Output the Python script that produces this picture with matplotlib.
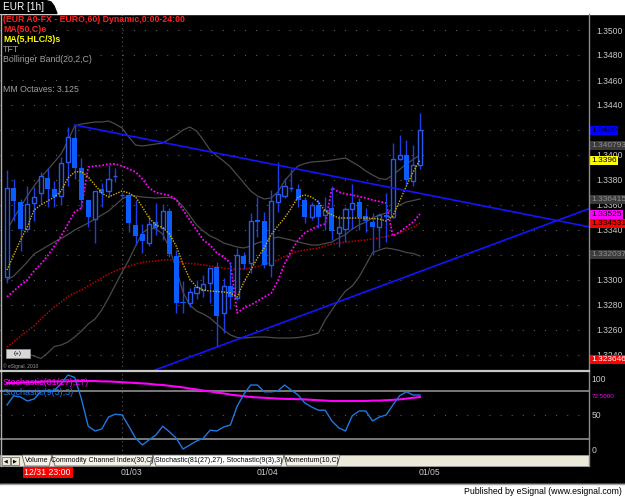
import numpy as np
import matplotlib
matplotlib.use('Agg')
import matplotlib.pyplot as plt
from matplotlib.patches import Rectangle, Polygon

W, H = 625, 497

# EUR/USD hourly candles (12/31 -> 01/05)
opens = [1.33024, 1.33736, 1.33624, 1.33408, 1.33616, 1.33696, 1.33816, 1.33728, 1.33672, 1.33944,
         1.34136, 1.33896, 1.3364, 1.33488, 1.33728, 1.33712, 1.33832, 1.3368, 1.3368, 1.3344,
         1.33368, 1.33296, 1.33464, 1.33416, 1.33552, 1.33192, 1.32824, 1.32816, 1.32896, 1.3292,
         1.32976, 1.33104, 1.32736, 1.32952, 1.32856, 1.33192, 1.33136, 1.3348, 1.33472, 1.3312,
         1.33624, 1.33672, 1.33736, 1.33728, 1.3364, 1.33504, 1.336, 1.3352, 1.33576, 1.33376,
         1.33408, 1.33568, 1.33624, 1.33512, 1.33464, 1.33424, 1.3352, 1.33504, 1.33968, 1.34,
         1.33792, 1.3392]
highs = [1.3388, 1.33808, 1.33648, 1.33752, 1.33744, 1.33864, 1.33896, 1.33792, 1.33984, 1.34224,
         1.3424, 1.33976, 1.3364, 1.33712, 1.33776, 1.3392, 1.33896, 1.33688, 1.33688, 1.3364,
         1.33448, 1.3352, 1.33616, 1.33608, 1.33576, 1.3324, 1.32992, 1.32936, 1.33, 1.3304,
         1.33096, 1.33144, 1.33016, 1.33144, 1.33256, 1.33224, 1.33536, 1.33664, 1.33544, 1.3372,
         1.33944, 1.33816, 1.33888, 1.33768, 1.33664, 1.33624, 1.3364, 1.33664, 1.33752, 1.3352,
         1.33584, 1.33768, 1.33656, 1.33576, 1.33536, 1.33536, 1.33696, 1.34096, 1.3416, 1.3412,
         1.3408, 1.34336]
lows = [1.32976, 1.33472, 1.33232, 1.33384, 1.33472, 1.33608, 1.33584, 1.33584, 1.336, 1.33752,
        1.33808, 1.33576, 1.33424, 1.33296, 1.33584, 1.33664, 1.33784, 1.33672, 1.33384, 1.3328,
        1.33216, 1.33272, 1.3336, 1.3332, 1.33184, 1.32736, 1.32736, 1.32784, 1.32848, 1.32864,
        1.32816, 1.32464, 1.32576, 1.32768, 1.3284, 1.33088, 1.33056, 1.33344, 1.33096, 1.33024,
        1.33544, 1.33656, 1.33712, 1.33584, 1.33456, 1.3348, 1.33416, 1.334, 1.3332, 1.33264,
        1.33304, 1.33408, 1.334, 1.33384, 1.332, 1.33256, 1.33304, 1.33496, 1.3396, 1.3376,
        1.33752, 1.33888]
closes = [1.33736, 1.33632, 1.33408, 1.33608, 1.33664, 1.33832, 1.33728, 1.33664, 1.33936, 1.34144,
          1.33896, 1.3364, 1.33504, 1.33712, 1.33696, 1.33808, 1.33832, 1.3368, 1.33456, 1.33352,
          1.33312, 1.33448, 1.33416, 1.33552, 1.33208, 1.32816, 1.32816, 1.32904, 1.32944, 1.32968,
          1.33096, 1.32712, 1.32952, 1.32864, 1.332, 1.33128, 1.33472, 1.33464, 1.3312, 1.33632,
          1.33688, 1.33752, 1.33736, 1.3364, 1.33504, 1.336, 1.33504, 1.3356, 1.33392, 1.33424,
          1.33568, 1.33616, 1.33504, 1.33472, 1.33424, 1.3352, 1.33504, 1.33968, 1.34, 1.338,
          1.3392, 1.3420]

# indicators
ma50 = [1.32464, 1.32504, 1.32552, 1.32592, 1.32632, 1.32688, 1.32736, 1.32784, 1.32824, 1.32868,
        1.32896, 1.3292, 1.32952, 1.32984, 1.33016, 1.33048, 1.33072, 1.33096, 1.33112, 1.33128,
        1.3314, 1.33148, 1.33152, 1.3316, 1.33164, 1.33152, 1.33136, 1.33132, 1.33128, 1.3312,
        1.33112, 1.33104, 1.33096, 1.33088, 1.33088, 1.33088, 1.33096, 1.33108, 1.33124, 1.33144,
        1.3316, 1.33188, 1.33212, 1.33228, 1.3324, 1.33248, 1.33256, 1.33272, 1.33288, 1.33296,
        1.33304, 1.33308, 1.33316, 1.3332, 1.33328, 1.33336, 1.33348, 1.3336, 1.33376, 1.334,
        1.33424, 1.33456]
ma5 = [1.3308, 1.3320, 1.3332, 1.33424, 1.3356, 1.3360, 1.33632, 1.33664, 1.33712, 1.33816,
       1.33864, 1.33868, 1.33824, 1.3376, 1.33696, 1.33664, 1.33688, 1.33712, 1.33696, 1.33664,
       1.33584, 1.33496, 1.3344, 1.3342, 1.33368, 1.33272, 1.33128, 1.33008, 1.32944, 1.3292,
       1.32912, 1.32908, 1.32904, 1.32896, 1.32864, 1.32984, 1.3308, 1.33176, 1.33256, 1.3336,
       1.33432, 1.33496, 1.33576, 1.33664, 1.3368, 1.33664, 1.33624, 1.33552, 1.3352, 1.33496,
       1.33496, 1.33496, 1.33496, 1.33496, 1.33492, 1.33488, 1.33472, 1.33512, 1.33632, 1.33752,
       1.33864, 1.3396]
tft = [1.32864, 1.32912, 1.3296, 1.33, 1.33072, 1.33128, 1.33192, 1.33272, 1.33352, 1.33448,
       1.33544, 1.33576, 1.33904, 1.33912, 1.33916, 1.33928, 1.33928, 1.33912, 1.33888, 1.33864,
       1.33808, 1.33736, 1.337, 1.33688, 1.33676, 1.33644, 1.3356, 1.3348, 1.334, 1.3332,
       1.3328, 1.33216, 1.33184, 1.33136, 1.32736, 1.32776, 1.328, 1.32832, 1.32864, 1.32892,
       1.32992, 1.33128, 1.33232, 1.3332, 1.33376, 1.33408, 1.33432, 1.33448, 1.33736, 1.33704,
       1.33688, 1.3368, 1.33668, 1.33656, 1.3364, 1.33628, 1.33616, 1.33352, 1.33384, 1.33424,
       1.33464, 1.33528]
bb_upper = [1.3340, 1.33496, 1.33584, 1.33672, 1.33752, 1.33824, 1.3388, 1.33944, 1.34008, 1.34112,
            1.34232, 1.34248, 1.34256, 1.34264, 1.34264, 1.34272, 1.34248, 1.34216, 1.34144, 1.3408,
            1.34072, 1.3408, 1.34088, 1.34096, 1.34128, 1.3416, 1.342, 1.34224, 1.34192, 1.3412,
            1.3404, 1.33992, 1.33952, 1.33904, 1.3384, 1.33776, 1.33712, 1.33672, 1.33648, 1.33656,
            1.33704, 1.33792, 1.33856, 1.33912, 1.33932, 1.33944, 1.33948, 1.33952, 1.3396, 1.33968,
            1.33976, 1.33944, 1.33912, 1.33872, 1.3384, 1.33812, 1.33804, 1.3384, 1.33884, 1.33928,
            1.33964, 1.34]
bb_mid = [1.33, 1.33032, 1.33088, 1.33144, 1.33208, 1.3324, 1.33272, 1.33304, 1.33332, 1.33364,
          1.334, 1.33428, 1.33456, 1.33488, 1.3352, 1.33552, 1.336, 1.33648, 1.33678, 1.33672,
          1.33664, 1.3366, 1.33656, 1.3366, 1.3366, 1.33644, 1.33588, 1.33516, 1.3344, 1.33392,
          1.33352, 1.33328, 1.33296, 1.3328, 1.33264, 1.33256, 1.33272, 1.33296, 1.33312, 1.33328,
          1.33344, 1.33332, 1.3332, 1.33304, 1.33292, 1.3328, 1.3328, 1.33292, 1.33304, 1.33336,
          1.33364, 1.33408, 1.3344, 1.33464, 1.33496, 1.3352, 1.33536, 1.33568, 1.336, 1.33624,
          1.33636, 1.33648]
bb_lower = [1.3244, 1.32432, 1.32424, 1.32408, 1.32392, 1.32372, 1.32416, 1.32468, 1.3248, 1.32504,
            1.32544, 1.32592, 1.32648, 1.32688, 1.3276, 1.32856, 1.3296, 1.33064, 1.3316, 1.33272,
            1.33376, 1.33416, 1.33408, 1.33368, 1.33256, 1.33088, 1.32904, 1.328, 1.32752, 1.32728,
            1.32696, 1.32648, 1.326, 1.3256, 1.3254, 1.32536, 1.3254, 1.32544, 1.32544, 1.3254,
            1.32536, 1.32536, 1.32536, 1.3254, 1.32548, 1.3256, 1.32576, 1.3268, 1.3276, 1.3284,
            1.32912, 1.32952, 1.33024, 1.3312, 1.3322, 1.3324, 1.33256, 1.33248, 1.33236, 1.3322,
            1.33212, 1.33192]

# trend lines (bar index, price)
trend_hi_x = [10, 86]
trend_hi_y = [1.3424, 1.33425]
trend_lo_x = [18, 86]
trend_lo_y = [1.32202, 1.33571]

# stochastics
stoch_fast = [62.5, 74, 72.5, 67.5, 70, 79, 80, 81, 89, 100,
              97, 70, 36, 30, 32.5, 47.5, 51, 50, 36, 21,
              12.5, 19, 25, 36, 29, 21, 7.5, 12.5, 17.5, 21,
              31, 30, 35, 37.5, 61, 76, 87.5, 87.5, 79, 79,
              80, 87.5, 81, 75, 65, 60, 56, 56, 42.5, 34,
              30, 49, 55, 55, 42.5, 47.5, 50, 62.5, 74, 79,
              75, 75]
stoch_slow = [90, 90, 90.5, 91, 91, 91.5, 92, 92, 92, 92,
              92.5, 92.5, 92.5, 92.5, 92, 92, 91.5, 91, 90.5, 90,
              89.5, 89, 88, 87.5, 86.5, 85.5, 84.5, 83, 82, 80.5,
              79.5, 78, 77, 75.5, 74.5, 73.5, 72.5, 72, 71.5, 71,
              70.5, 70.2, 70, 69.8, 69.5, 69, 68.5, 68, 67.5, 67.5,
              67.5, 67.5, 67.5, 67.5, 68, 68, 68.5, 69, 69.5, 70.5,
              71.5, 72.5]

price_ticks = [1.3240, 1.3260, 1.3280, 1.3300, 1.3320, 1.3340, 1.3360,
               1.3380, 1.3400, 1.3420, 1.3440, 1.3460, 1.3480, 1.3500]
day_ticks = [17, 37, 61]
day_labels = ['01/03', '01/04', '01/05']
value_labels = [(1.3420, '1.3420', '#0000ff', 'black'),
                (1.340793, '1.340793', '#3a3a3a', '#909090'),
                (1.3396, '1.3396', '#ffff00', 'black'),
                (1.336415, '1.336415', '#3a3a3a', '#909090'),
                (1.33525, '1.33525', '#ff00ff', 'black'),
                (1.334531, '1.334531', '#ff0000', 'black'),
                (1.332037, '1.332037', '#3a3a3a', '#909090'),
                (1.323646, '1.323646', '#ff0000', 'white')]
legend_lines = [('(EUR A0-FX - EURO,60) Dynamic,0:00-24:00', '#ff2020', 'bold', 20),
                ('MA(50,C)e', '#ff2020', 'bold', 30),
                ('MA(5,HLC/3)s', '#ffff00', 'bold', 40),
                ('TFT', '#a0a0a0', 'normal', 49),
                ('Bollinger Band(20,2,C)', '#a0a0a0', 'normal', 59),
                ('MM Octaves: 3.125', '#a0a0a0', 'normal', 89)]
tabs = ['Volume', 'Commodity Channel Index(30,C)',
        'Stochastic(81(27),27), Stochastic(9(3),3)', 'Momentum(10,C)']

plt.rcParams['font.family'] = ['Liberation Sans', 'DejaVu Sans']
NARROW = ['Liberation Sans Narrow', 'Liberation Sans', 'DejaVu Sans']

fig = plt.figure(figsize=(W / 100, H / 100), dpi=100, facecolor='black')


def px_axes(x0, y0, x1, y1):
    return fig.add_axes([x0 / W, 1 - y1 / H, (x1 - x0) / W, (y1 - y0) / H])


idx = np.arange(len(closes))
o = np.array(opens)
c = np.array(closes)
XMIN, XMAX = -1.03, 85.97

# ---- price panel
ax = px_axes(0, 14, 589, 371)
ax.set_facecolor('black')
ax.set_xlim(XMIN, XMAX)
ax.set_ylim(1.32272, 1.35128)
for s in ax.spines.values():
    s.set_visible(False)
ax.set_xticks([])
ax.yaxis.tick_right()
# the last-price box already shows 1.3420, so that tick keeps no label
ax.set_yticks(price_ticks)
ax.set_yticklabels(['' if abs(t - closes[-1]) < 1e-6 else f'{t:.4f}' for t in price_ticks],
                   color='#c8c8c8', fontsize=6.2)
ax.tick_params(axis='y', length=0, pad=5.5)
for t in price_ticks:
    ax.axhline(t, color='#5a5a5a', lw=0.8, ls=(0, (1, 9)), zorder=0)
ax.axvline(day_ticks[0], color='#5a5a5a', lw=0.8, ls=(0, (1, 3)), zorder=0)

ax.plot(idx, bb_upper, color='#4a4a4a', lw=0.9, zorder=1)
ax.plot(idx, bb_mid, color='#4a4a4a', lw=0.9, zorder=1)
ax.plot(idx, bb_lower, color='#4a4a4a', lw=0.9, zorder=1)
ax.plot(idx, ma50, color='#c00000', lw=1.1, ls=(0, (1, 1)), zorder=1)
ax.plot(idx, tft, color='#ff00ff', lw=1.3, ls=(0, (1, 1)), zorder=1)
ax.plot(idx, ma5, color='#d8b000', lw=1.0, ls=(0, (1, 1)), zorder=4)
ax.plot(trend_hi_x, trend_hi_y, color='#1414ff', lw=1.2, zorder=4)
ax.plot(trend_lo_x, trend_lo_y, color='#1414ff', lw=1.2, zorder=4)

# candles
up = c >= o
body_lo = np.minimum(o, c)
body_h = np.maximum(np.abs(c - o), 0.00003)
ax.vlines(idx, lows, highs, color='#1e3ee6', lw=1.0, zorder=2)
ax.bar(idx[up], body_h[up], bottom=body_lo[up], width=0.62, facecolor='black',
       edgecolor='#2a5ae8', lw=1.0, zorder=3)
ax.bar(idx[~up], body_h[~up], bottom=body_lo[~up], width=0.74, color='#0a5cff',
       lw=0, zorder=3)

for v, s, bg, fg in value_labels:
    ax.text(1.004, v, s, transform=ax.get_yaxis_transform(), fontsize=6, color=fg,
            ha='left', va='center', clip_on=False, zorder=6,
            bbox=dict(boxstyle='square,pad=0.12', fc=bg, ec='none'))

# ---- stochastic panel
ax2 = px_axes(0, 371, 589, 455)
ax2.set_facecolor('black')
ax2.set_xlim(XMIN, XMAX)
ax2.set_ylim(0, 105)
for s in ax2.spines.values():
    s.set_visible(False)
ax2.set_xticks([])
ax2.yaxis.tick_right()
ax2.set_yticks([0, 50, 100])
ax2.set_yticklabels(['0', '50', '100'], color='#c8c8c8', fontsize=6.2)
ax2.tick_params(axis='y', length=0, pad=2)
lbls = ax2.get_yticklabels()
lbls[0].set_va('bottom')
lbls[2].set_va('top')
ax2.axhline(80, color='#7a7a7a', lw=1.4)
ax2.axhline(20, color='#7a7a7a', lw=1.4)
ax2.axhline(50, color='#5a5a5a', lw=0.8, ls=(0, (1, 9)))
ax2.axvline(day_ticks[0], color='#5a5a5a', lw=0.8, ls=(0, (1, 3)))
ax2.plot(idx, stoch_slow, color='#ff00ff', lw=1.5)
ax2.plot(idx, stoch_fast, color='#1e78e0', lw=1.0)
ax2.text(1.004, stoch_slow[-1], f'{stoch_slow[-1]:.4f}', transform=ax2.get_yaxis_transform(),
         fontsize=4.5, color='#ff00ff', ha='left', va='center', clip_on=False)
ax2.text(0.004, 0.86, 'Stochastic(81(27),27)', transform=ax2.transAxes, color='#ff00ff',
         fontsize=6.5, va='center')
ax2.text(0.004, 0.74, 'Stochastic(9(3),3)', transform=ax2.transAxes, color='#1e78e0',
         fontsize=6.5, va='center')

# date row
xt = ax2.get_xaxis_transform()
for d, lab in zip(day_ticks, day_labels):
    ax2.text(d - 0.15, -0.205, lab, transform=xt, color='#c8c8c8', fontsize=6.2,
             ha='left', va='center', clip_on=False)
ax2.text(6, -0.205, '12/31 23:00', transform=xt, color='white', fontsize=6.3,
         ha='center', va='center', clip_on=False,
         bbox=dict(boxstyle='square,pad=0.2', fc='#ff0000', ec='none'))

# ---- frame decorations
ov = fig.add_axes([0, 0, 1, 1], zorder=10)
ov.set_xlim(0, W)
ov.set_ylim(H, 0)
ov.axis('off')
ov.add_patch(Rectangle((0, 0), W, 13.5, color='white'))
ov.add_patch(Polygon([(0, 13.5), (0, 0.5), (46, 0.5), (51, 2), (54, 6), (57, 13.5)],
                     closed=True, color='black'))
ov.text(3, 7, 'EUR [1h]', color='white', fontsize=7.2, va='center')
ov.plot([1, 1], [14, 466], color='#b0b0b0', lw=1)
ov.plot([589, 589], [14, 466], color='#8c8c8c', lw=1)
ov.plot([0, 589], [370.5, 370.5], color='#c8c8c8', lw=1.6)
for s, col, wt, y in legend_lines:
    ov.text(3, y, s, color=col, fontsize=6.3, fontweight=wt, va='center', family=NARROW)

# small chart widgets
ov.add_patch(Rectangle((6, 349), 24, 9, fc='#d8d8d8', ec='#909090', lw=0.6))
ov.text(18, 353.5, '(+)', fontsize=4.5, ha='center', va='center', color='black')
ov.text(3, 366, '\u00a9 eSignal, 2010', fontsize=3.5, color='#a0a0a0', va='center')

# tab bar
ov.add_patch(Rectangle((0, 455), 589, 11, fc='#ece9d8', ec='#a0a0a0', lw=0.6))
ov.add_patch(Rectangle((2, 456.5), 8, 8, fc='#ece9d8', ec='#707070', lw=0.6))
ov.add_patch(Rectangle((11, 456.5), 8, 8, fc='#ece9d8', ec='#707070', lw=0.6))
ov.text(6, 460.5, '\u25c0', fontsize=3.5, ha='center', va='center', color='black')
ov.text(15, 460.5, '\u25b6', fontsize=3.5, ha='center', va='center', color='black')
tab_x = [(22, 52), (52, 153), (153, 284), (284, 340)]
for (x0, x1), lab in zip(tab_x, tabs):
    fc = 'white' if lab.startswith('Stochastic') else '#f4f2ea'
    ov.add_patch(Polygon([(x0, 455), (x0 + 3, 466), (x1 - 3, 466), (x1, 455)], closed=True,
                         fc=fc, ec='#606060', lw=0.6))
    ov.text((x0 + x1) / 2, 460.5, lab, fontsize=5.0, ha='center', va='center', color='black',
            family=NARROW)

# bottom strip
ov.add_patch(Rectangle((0, 484), W, 13, color='white'))
ov.plot([0, W], [484, 484], color='#a0a0a0', lw=1)
ov.text(622, 491, 'Published by eSignal (www.esignal.com)', fontsize=6.3, ha='right',
        va='center', color='black')

fig.savefig('out.png', dpi=100, facecolor='black')
